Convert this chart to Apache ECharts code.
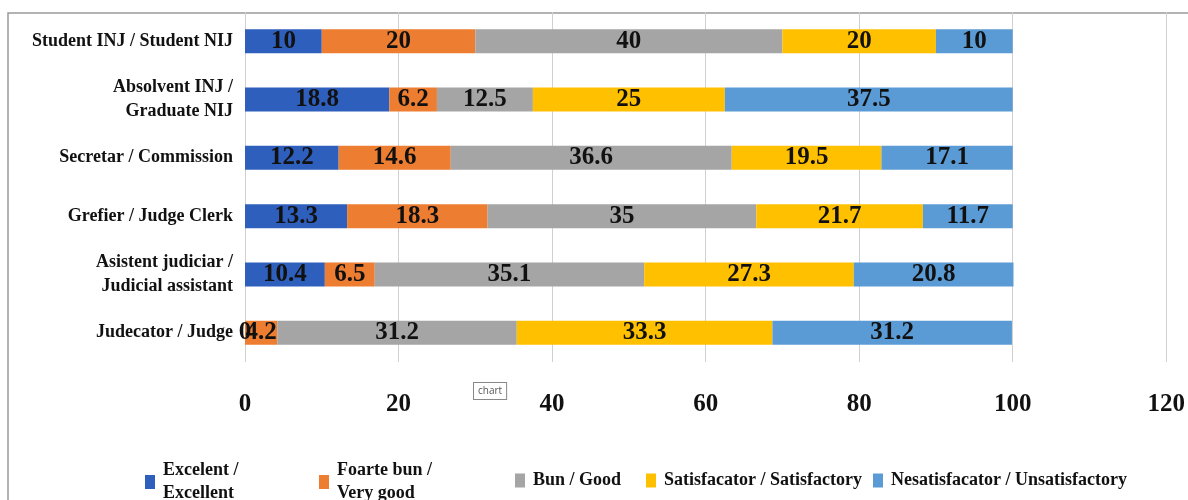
<!DOCTYPE html>
<html>
<head>
<meta charset="utf-8">
<script src="https://cdn.jsdelivr.net/npm/echarts@6/dist/echarts.min.js"></script>
<style>
  html, body { margin: 0; padding: 0; background: #fff; }
  #chart { width: 1188px; height: 500px; }
</style>
</head>
<body>
<div id="chart"></div>
<script>
// categories, top to bottom
const categories = [
  'Student INJ / Student NIJ',
  'Absolvent INJ /\nGraduate NIJ',
  'Secretar / Commission',
  'Grefier / Judge Clerk',
  'Asistent judiciar /\nJudicial assistant',
  'Judecator / Judge'
]
const seriesNames = [
  'Excelent /\nExcellent',
  'Foarte bun /\nVery good',
  'Bun / Good',
  'Satisfacator / Satisfactory',
  'Nesatisfacator / Unsatisfactory'
]
const excellent = [10, 18.8, 12.2, 13.3, 10.4, 0]
const veryGood = [20, 6.2, 14.6, 18.3, 6.5, 4.2]
const good = [40, 12.5, 36.6, 35, 35.1, 31.2]
const satisfactory = [20, 25, 19.5, 21.7, 27.3, 33.3]
const unsatisfactory = [10, 37.5, 17.1, 11.7, 20.8, 31.2]
const xTicks = { min: 0, max: 120, interval: 20 }

const colors = ['#2f5fbd', '#ed7d31', '#a5a5a5', '#ffc000', '#5b9bd5']
const serif = "'Liberation Serif', 'Times New Roman', serif"
const values = [excellent, veryGood, good, satisfactory, unsatisfactory]

// legend slots (Excel spaced them unevenly)
const legendLeft = [140, 314, 510, 641, 868]

const chart = echarts.init(document.getElementById('chart'))

const option = {
  animation: false,
  color: colors,
  grid: { left: 245, right: 20, top: 12, bottom: 138 },
  graphic: [
    {
      type: 'rect',
      shape: { x: 8, y: 13, width: 1200, height: 520 },
      style: { fill: 'none', stroke: '#9a9a9a', lineWidth: 1.5 },
      silent: true
    },
    {
      type: 'text',
      left: 473, top: 382,
      style: {
        text: 'chart', fontSize: 10, fill: '#555', fontFamily: 'Open Sans',
        backgroundColor: '#fff', borderColor: '#888', borderWidth: 1,
        padding: [3, 4, 3, 4]
      }
    }
  ],
  legend: seriesNames.map((name, i) => ({
    data: [name],
    left: legendLeft[i],
    top: i < 2 ? 454 : 464,
    itemWidth: 10,
    itemHeight: 14,
    icon: 'rect',
    textStyle: {
      fontFamily: serif, fontWeight: 'bold', fontSize: 18, color: '#111',
      lineHeight: 23, padding: [0, 0, 0, 3]
    }
  })),
  xAxis: {
    type: 'value',
    min: xTicks.min,
    max: xTicks.max,
    interval: xTicks.interval,
    axisLine: { show: false },
    axisTick: { show: false },
    splitLine: { lineStyle: { color: '#d0d0d0', width: 1 } },
    axisLabel: {
      margin: 30,
      fontFamily: serif, fontWeight: 'bold', fontSize: 25, color: '#111'
    }
  },
  yAxis: {
    type: 'category',
    data: categories,
    inverse: true,
    axisLine: { show: false },
    axisTick: { show: false },
    axisLabel: {
      margin: 12,
      fontFamily: serif, fontWeight: 'bold', fontSize: 18, color: '#111',
      lineHeight: 24, align: 'right'
    }
  },
  series: seriesNames.map((name, i) => ({
    name: name,
    type: 'bar',
    stack: 'total',
    barWidth: 24,
    data: values[i],
    itemStyle: { color: colors[i] },
    label: {
      show: true,
      position: 'inside',
      formatter: '{c}',
      fontFamily: serif, fontWeight: 'bold', fontSize: 25, color: '#111'
    }
  }))
}

chart.setOption(option)
</script>
</body>
</html>
